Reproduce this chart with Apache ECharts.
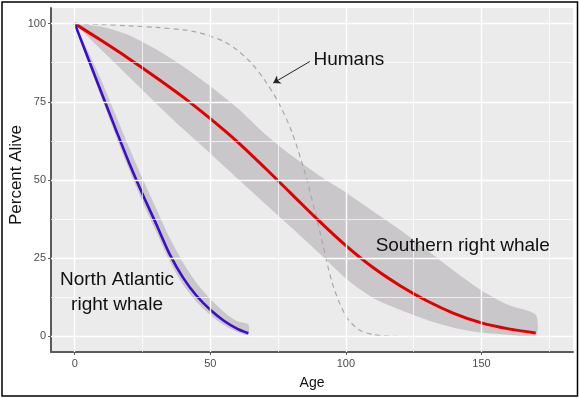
<!DOCTYPE html>
<html><head><meta charset="utf-8">
<script src="https://cdn.jsdelivr.net/npm/echarts@6/dist/echarts.min.js"></script>
<style>html,body{margin:0;padding:0;background:#fff}#c{width:580px;height:398px}</style>
</head><body><div id="c"></div>
<script>
// ---- data ----
const xTicks = [0, 50, 100, 150];
const yTicks = [0, 25, 50, 75, 100];
const xMinorGrid = [25, 75, 125, 175];
const yMinorGrid = [12.5, 37.5, 62.5, 87.5];

const naAge   = [0, 5, 10, 15, 20, 25, 30, 35, 40, 45, 50, 55, 60, 64];
const naAlive = [100, 88.8, 77.6, 66.5, 55.6, 45.5, 36, 26.3, 18.7, 12.9, 8.5, 5, 2.4, 1.0];
const naUpper = [100, 91, 81.5, 71, 60.5, 50.5, 41, 31.5, 23.5, 17, 12, 7.8, 4.8, 3.8];
const naLower = [100, 87.5, 76, 64.5, 53.4, 43, 33.5, 24, 16.5, 11, 6.8, 3.6, 1.4, 0.5];

const srAge   = [0, 10, 20, 30, 40, 50, 60, 70, 80, 90, 100, 110, 120, 130, 140, 150, 160, 170];
const srAlive = [100, 94.5, 88.8, 82.8, 76.5, 69.6, 62.2, 54, 45.5, 37, 29, 22, 16.2, 11.3, 7.3, 4.3, 2.4, 1.1];
const srUpper = [100, 99, 96.3, 91.8, 86.3, 80, 73, 64.8, 57.8, 51.5, 46, 40, 34, 27.5, 20.8, 14.7, 10, 6.9];
const srLower = [100, 91.5, 83, 74.5, 66.3, 58.5, 50.5, 42.6, 34.7, 26.7, 18.5, 12.3, 8.5, 5.2, 2.7, 1.2, 0.5, 0.2];

const humanAge   = [0, 10, 20, 30, 40, 45, 50, 55, 60, 65, 70, 75, 80, 85, 90, 95, 100, 105, 110, 115, 119];
const humanAlive = [100, 99.7, 99.3, 98.8, 98, 97.3, 96, 94.3, 91.5, 87.5, 82, 75, 65.5, 52, 35, 17, 6.5, 2, 0.6, 0.1, 0];

const labelHumans = { text: 'Humans', at: [101.1, 88.5] };
const labelSouthern = { text: 'Southern right whale', at: [143.1, 29.0] };
const labelNorth = { text: 'North Atlantic\nright whale', at: [15.6, 14.0] };
const humansArrow = [[86.7, 87.9], [73.2, 81.0]];

// ---- chart ----
const FONT = '"Liberation Sans", Arial, Helvetica, sans-serif';
const chart = echarts.init(document.getElementById('c'), null, { renderer: 'canvas' });
const pairs = (xs, ys) => xs.map((x, i) => [x, ys[i]]);

function band(xs, lo, hi, color) {
  return {
    type: 'custom', z: 2, clip: true, silent: true,
    data: [[xs[0], hi[0]]],
    renderItem: function (params, api) {
      const pts = [];
      for (let i = 0; i < xs.length; i++) pts.push(api.coord([xs[i], hi[i]]));
      for (let i = xs.length - 1; i >= 0; i--) pts.push(api.coord([xs[i], lo[i]]));
      return { type: 'polygon', shape: { points: pts, smooth: 0.25 }, style: { fill: color } };
    }
  };
}

const gridLines = [];
xTicks.forEach(v => gridLines.push({ xAxis: v, lineStyle: { width: 1.4 } }));
xMinorGrid.forEach(v => gridLines.push({ xAxis: v, lineStyle: { width: 0.7 } }));
yTicks.forEach(v => gridLines.push({ yAxis: v, lineStyle: { width: 1.4 } }));
yMinorGrid.forEach(v => gridLines.push({ yAxis: v, lineStyle: { width: 0.7 } }));

function textPoint(lbl, extra) {
  return {
    coord: lbl.at, value: lbl.text,
    label: Object.assign({
      show: true, position: 'inside', formatter: lbl.text,
      fontSize: 19, fontFamily: FONT, color: '#111', align: 'center', verticalAlign: 'middle'
    }, extra || {})
  };
}

const axisCommon = {
  type: 'value',
  axisLine: { show: true, onZero: false, lineStyle: { color: '#5a5a5a', width: 2 } },
  splitLine: { show: false },
  nameLocation: 'middle',
  nameMoveOverlap: false
};

chart.setOption({
  animation: false,
  backgroundColor: '#ffffff',
  grid: { left: 51, top: 8, width: 522, height: 344, show: true, backgroundColor: '#EBEBEB', borderWidth: 0,
          containLabel: false, outerBoundsMode: 'none' },
  xAxis: Object.assign({}, axisCommon, {
    min: -8.75, max: 183.75,
    name: 'Age', nameGap: 24,
    nameTextStyle: { fontSize: 14, color: '#111', fontFamily: FONT },
    axisTick: { show: true, customValues: xTicks, length: 3, lineStyle: { color: '#5a5a5a', width: 1 } },
    axisLabel: { customValues: xTicks, margin: 6, color: '#4d4d4d', fontSize: 11, fontFamily: FONT }
  }),
  yAxis: Object.assign({}, axisCommon, {
    min: -5, max: 105,
    name: 'Percent Alive', nameGap: 26, nameRotate: 90,
    nameTextStyle: { fontSize: 17, color: '#111', fontFamily: FONT, padding: [0, 0, 0, 10] },
    axisTick: { show: true, customValues: yTicks, length: 3, lineStyle: { color: '#5a5a5a', width: 1 } },
    axisLabel: { customValues: yTicks, margin: 5, color: '#4d4d4d', fontSize: 11, fontFamily: FONT }
  }),
  graphic: [{
    type: 'rect', z: 100, silent: true,
    shape: { x: 2, y: 2, width: 575.5, height: 394 },
    style: { fill: 'none', stroke: '#000', lineWidth: 1.5 }
  }],
  series: [
    {
      type: 'line', z: 1, data: [], silent: true,
      markLine: {
        silent: true, symbol: 'none', label: { show: false }, animation: false,
        lineStyle: { color: '#ffffff', type: 'solid', width: 1 },
        data: gridLines
      }
    },
    band(srAge, srLower, srUpper, '#C9C7C9'),
    band(naAge, naLower, naUpper, '#C9C7C9'),
    {
      type: 'line', z: 3, data: pairs(humanAge, humanAlive), showSymbol: false,
      smooth: 0.3,
      lineStyle: { color: '#a8a8a8', width: 1.2, type: [5, 4] },
      markLine: {
        silent: true, symbol: ['none', 'arrow'], symbolSize: 7, label: { show: false },
        lineStyle: { color: '#222', width: 1, type: 'solid' },
        data: [[{ coord: humansArrow[0] }, { coord: humansArrow[1] }]]
      }
    },
    {
      type: 'line', z: 4, data: pairs(srAge, srAlive), showSymbol: false,
      smooth: 0.3,
      lineStyle: { color: '#E00000', width: 3 }
    },
    {
      type: 'line', z: 4, data: pairs(naAge, naAlive), showSymbol: false,
      smooth: 0.3,
      lineStyle: { color: '#3A0CCB', width: 2.6 }
    },
    {
      type: 'line', z: 5, data: [], silent: true,
      markPoint: {
        silent: true, symbol: 'circle', symbolSize: 1, itemStyle: { color: 'rgba(0,0,0,0)' },
        data: [
          textPoint(labelHumans),
          textPoint(labelSouthern),
          textPoint(labelNorth, { lineHeight: 25 })
        ]
      }
    }
  ]
});
</script>
</body></html>
